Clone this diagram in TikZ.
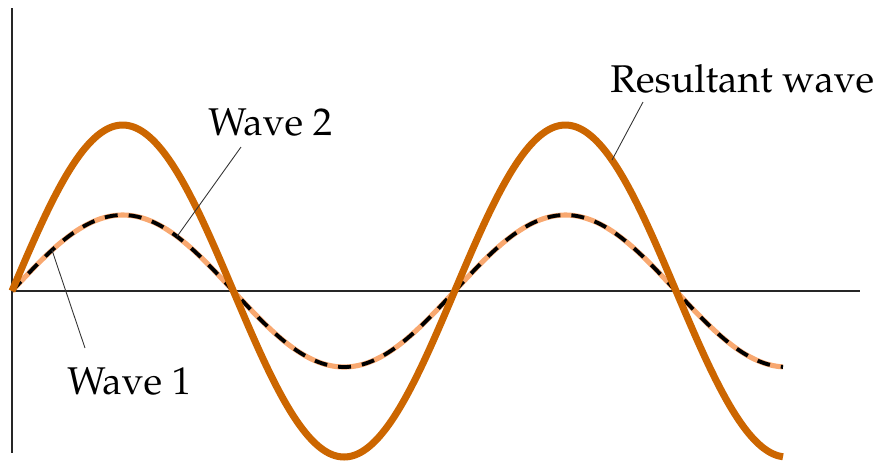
\documentclass[tikz,border=0pt]{standalone}
\usepackage[T1]{fontenc}
\usepackage{mathpazo}
\usepackage{tikz}
\usetikzlibrary{calc}

\definecolor{resorange}{RGB}{204,102,0}
\definecolor{wavesalmon}{RGB}{248,168,112}

\begin{document}
\begin{tikzpicture}[x=0.02cm, y=-0.02cm, axis/.style={line width=1.1pt, black!85}, res/.style={line width=4pt, resorange}, wone/.style={line width=2.9pt, wavesalmon}, wtwo/.style={line width=2.2pt, black, dash pattern=on 0.26cm off 0.22cm}, leader/.style={line width=0.5pt, black!80}, lbl/.style={inner sep=0pt, anchor=base west, font=\fontsize{22}{26}\selectfont}]
        \useasboundingbox (0,0) rectangle (884,461);
        % axes
        \coordinate (o) at (12,291);
        \coordinate (ytop) at (12,8);
        \coordinate (ybot) at (12,453);
        \coordinate (xend) at (860,291);
        \draw[axis] (ytop) -- (ybot);
        \draw[axis] (o) -- (xend);
        % the two component waves, then their sum
        \draw[wone] plot[domain=12:783, samples=160, smooth] (\x,{291-76*sin((\x-12)/442.7*360)});
        \draw[wtwo] plot[domain=12:783, samples=160, smooth] (\x,{291-76*sin((\x-12)/442.7*360)});
        \draw[res] plot[domain=12:783, samples=160, smooth] (\x,{291-166*sin((\x-12)/442.7*360)});
        % labels
        \node[lbl] (w2) at (208,135) {Wave 2};
        \node[lbl] (rw) at (610,92) {Resultant wave};
        \node[lbl] (w1) at (67,394) {Wave 1};
        \coordinate (w2pt) at (177,{291-76*sin(165/442.7*360)});
        \coordinate (rwpt) at (612,{291-166*sin(600/442.7*360)});
        \coordinate (w1pt) at (52,{291-76*sin(40/442.7*360)});
        \draw[leader] ($(w2.base west)+(33,12)$) -- (w2pt);
        \draw[leader] ($(rw.base west)+(33,10)$) -- (rwpt);
        \draw[leader] ($(w1.base west)+(18,-46)$) -- (w1pt);
    \end{tikzpicture}
\end{document}
